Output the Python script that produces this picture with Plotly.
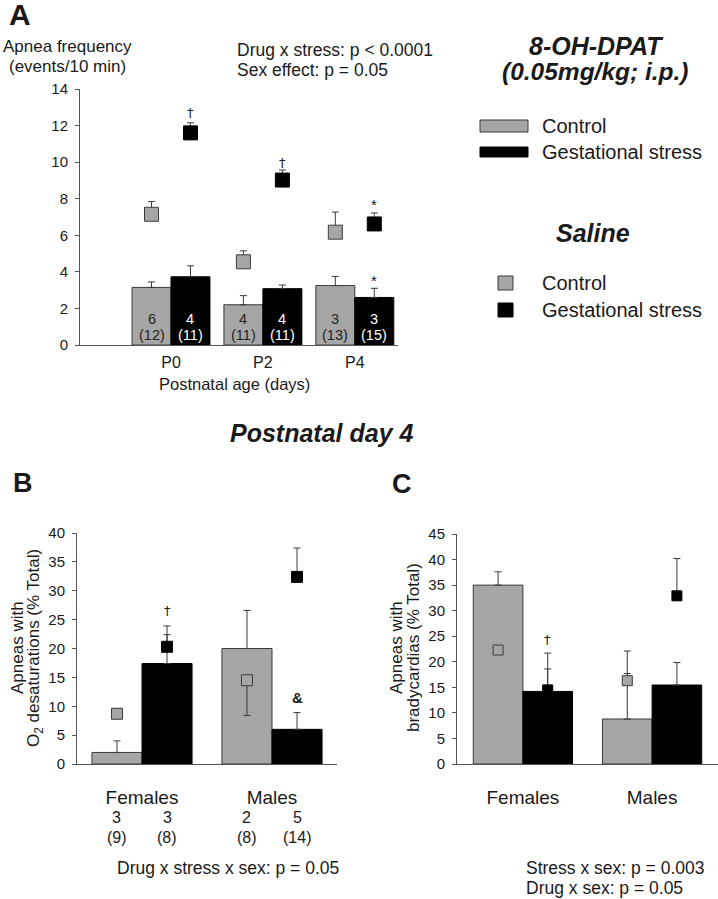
import plotly.graph_objects as go

# ---------------- data ----------------
ages = ["P0", "P2", "P4"]
dpat_control = [3.15, 2.2, 3.25]
dpat_control_err = [0.3, 0.5, 0.5]
dpat_stress = [3.73, 3.08, 2.6]
dpat_stress_err = [0.6, 0.2, 0.5]
saline_control = [7.15, 4.55, 6.17]
saline_control_err = [0.7, 0.6, 1.1]
saline_stress = [11.6, 9.02, 6.62]
saline_stress_err = [0.55, 0.55, 0.6]
n_control = ["6", "4", "3"]
n2_control = ["(12)", "(11)", "(13)"]
n_stress = ["4", "4", "3"]
n2_stress = ["(11)", "(11)", "(15)"]

sexes = ["Females", "Males"]
# B: O2 desaturations
desat_dpat_control = [2.0, 20.0]
desat_dpat_control_err = [2.0, 6.6]
desat_dpat_stress = [17.4, 6.0]
desat_dpat_stress_err = [5.0, 2.9]
desat_sal_control = [8.7, 14.5]
desat_sal_control_up = [0.0, 0.0]
desat_sal_control_down = [0.0, 6.1]
desat_sal_stress = [20.3, 32.4]
desat_sal_stress_err = [3.6, 5.0]
nB_top = ["3", "3", "2", "5"]
nB_bot = ["(9)", "(8)", "(8)", "(14)"]

# C: bradycardias
brady_dpat_control = [35.0, 8.8]
brady_dpat_control_err = [2.6, 13.3]
brady_dpat_stress = [14.2, 15.45]
brady_dpat_stress_err = [4.4, 4.4]
brady_sal_control = [22.3, 16.3]
brady_sal_control_err = [0.0, 1.4]
brady_sal_stress = [14.5, 32.9]
brady_sal_stress_err = [7.2, 7.3]

# ---------------- style ----------------
W, H = 718, 899
FONT = "Liberation Sans, Arial, sans-serif"
SYMFONT = "DejaVu Sans, Liberation Sans, sans-serif"
GRAY = "#a6a6a6"
EDGE = "#3a3a3a"
AX = "#555555"
TXT = "#1a1a1a"


def px(x):
    return x / W


def py(y):
    return 1 - y / H


fig = go.Figure()


def err(arr):
    return dict(type="data", symmetric=False, array=arr, arrayminus=[0] * len(arr),
                color=EDGE, thickness=1, width=3.5)


def add_panel(xa, ya, idx, wbar, ctrl, ctrl_e, strs, strs_e,
              sc, sc_up, sc_down, ss, ss_e, msize):
    xs = list(range(len(idx)))
    fig.add_trace(go.Bar(x=xs, y=ctrl, width=wbar, offset=-wbar,
                         marker=dict(color=GRAY, line=dict(color=EDGE, width=1)),
                         error_y=err(ctrl_e), xaxis=xa, yaxis=ya, showlegend=False))
    fig.add_trace(go.Bar(x=xs, y=strs, width=wbar, offset=0,
                         marker=dict(color="black", line=dict(color="black", width=1)),
                         error_y=err(strs_e), xaxis=xa, yaxis=ya, showlegend=False))
    fig.add_trace(go.Scatter(x=[v - wbar / 2 for v in xs], y=sc, mode="markers",
                             marker=dict(symbol="square", size=msize, color=GRAY,
                                         line=dict(color=EDGE, width=1)),
                             error_y=dict(type="data", symmetric=False, array=sc_up,
                                          arrayminus=sc_down, color=EDGE, thickness=1, width=3.5),
                             xaxis=xa, yaxis=ya, showlegend=False))
    fig.add_trace(go.Scatter(x=[v + wbar / 2 for v in xs], y=ss, mode="markers",
                             marker=dict(symbol="square", size=msize, color="black",
                                         line=dict(color="black", width=1)),
                             error_y=err(ss_e),
                             xaxis=xa, yaxis=ya, showlegend=False))


wA = 0.424
add_panel("x", "y", ages, wA, dpat_control, dpat_control_err, dpat_stress, dpat_stress_err,
          saline_control, saline_control_err, [0] * 3, saline_stress, saline_stress_err, 14)
wB = 0.385
add_panel("x2", "y2", sexes, wB, desat_dpat_control, desat_dpat_control_err,
          desat_dpat_stress, desat_dpat_stress_err,
          desat_sal_control, desat_sal_control_up, desat_sal_control_down,
          desat_sal_stress, desat_sal_stress_err, 11)
wC = 0.384
add_panel("x3", "y3", sexes, wC, brady_dpat_control, brady_dpat_control_err,
          brady_dpat_stress, brady_dpat_stress_err,
          brady_sal_control, brady_sal_control_err, [0, 0],
          brady_sal_stress, brady_sal_stress_err, 10)

yaxis_common = dict(showline=True, linecolor=AX, linewidth=1, ticks="outside", ticklen=4,
                    tickcolor=AX, showgrid=False, zeroline=False,
                    tickfont=dict(family=FONT, size=15, color=TXT), ticklabelstandoff=4)
xaxis_common = dict(showline=True, linecolor=AX, linewidth=1, ticks="", showgrid=False,
                    zeroline=False)

fig.update_layout(
    width=W, height=H, margin=dict(l=0, r=0, t=0, b=0, pad=0, autoexpand=False),
    paper_bgcolor="white", plot_bgcolor="white", barmode="overlay",
    font=dict(family=FONT, color=TXT),
    xaxis=dict(domain=[px(80), px(398)], range=[-0.99, 2.47], tickvals=[0, 1, 2], ticktext=ages,
               tickfont=dict(family=FONT, size=16, color=TXT), ticklabelstandoff=3,
               anchor="y", **xaxis_common),
    yaxis=dict(domain=[py(345), py(89)], range=[0, 14], dtick=2, anchor="x", **yaxis_common),
    xaxis2=dict(domain=[px(77), px(337)], range=[-0.5, 1.5], tickvals=[0, 1], ticktext=sexes,
                tickfont=dict(family=FONT, size=19, color=TXT), ticklabelstandoff=16,
                anchor="y2", **xaxis_common),
    yaxis2=dict(domain=[py(764), py(533)], range=[0, 40], dtick=5, anchor="x2", **yaxis_common),
    xaxis3=dict(domain=[px(457), 1.0], range=[-0.51, 1.51], tickvals=[0, 1], ticktext=sexes,
                tickfont=dict(family=FONT, size=19, color=TXT), ticklabelstandoff=16,
                anchor="y3", **xaxis_common),
    yaxis3=dict(domain=[py(764), py(534)], range=[0, 45], dtick=5, anchor="x3", **yaxis_common),
)

ann = []


def A(text, x, y, size=17, xref="paper", yref="paper", xanchor="center", yanchor="middle",
      bold=False, italic=False, color=TXT, angle=0, align="center", family=FONT):
    t = text
    if bold:
        t = "<b>" + t + "</b>"
    if italic:
        t = "<i>" + t + "</i>"
    ann.append(dict(text=t, x=x, y=y, xref=xref, yref=yref, xanchor=xanchor, yanchor=yanchor,
                    showarrow=False, textangle=angle, align=align, borderpad=0,
                    font=dict(family=family, size=size, color=color)))


# panel letters
A("A", px(8), py(15), size=30, bold=True, xanchor="left")
A("B", px(12), py(483), size=27, bold=True, xanchor="left")
A("C", px(391), py(484), size=27, bold=True, xanchor="left")

# panel A texts
A("Apnea frequency", px(67), py(47), size=17)
A("(events/10 min)", px(67), py(66), size=17)
A("Drug x stress: p &lt; 0.0001", px(236), py(50), size=17.5, xanchor="left")
A("Sex effect: p = 0.05", px(236), py(70), size=17.5, xanchor="left")
A("8-OH-DPAT", px(596), py(46), size=25, bold=True, italic=True)
A("(0.05mg/kg; i.p.)", px(595), py(71), size=24.5, bold=True, italic=True)
A("Saline", px(593), py(233), size=25, bold=True, italic=True)
A("Postnatal age (days)", px(234), py(384), size=16.5)
A("Postnatal day 4", px(321), py(433), size=25, bold=True, italic=True)

# legend entries
A("Control", px(541), py(126), size=20, xanchor="left")
A("Gestational stress", px(541), py(152), size=20, xanchor="left")
A("Control", px(541), py(283), size=20, xanchor="left")
A("Gestational stress", px(541), py(310), size=20, xanchor="left")

shapes = [
    dict(type="rect", xref="paper", yref="paper", x0=px(480), x1=px(528), y0=py(132), y1=py(120),
         fillcolor=GRAY, line=dict(color=EDGE, width=1)),
    dict(type="rect", xref="paper", yref="paper", x0=px(480), x1=px(528), y0=py(157), y1=py(147),
         fillcolor="black", line=dict(color="black", width=1)),
    dict(type="rect", xref="paper", yref="paper", x0=px(498), x1=px(513), y0=py(290), y1=py(276),
         fillcolor=GRAY, line=dict(color=EDGE, width=1)),
    dict(type="rect", xref="paper", yref="paper", x0=px(498), x1=px(513), y0=py(317), y1=py(303),
         fillcolor="black", line=dict(color="black", width=1)),
]

# n labels inside bars (panel A)
for i in range(3):
    A(n_control[i], i - wA / 2, 1.4, size=14.5, xref="x", yref="y", color="#222222")
    A(n2_control[i], i - wA / 2, 0.55, size=14.5, xref="x", yref="y", color="#222222")
    A(n_stress[i], i + wA / 2, 1.4, size=14.5, xref="x", yref="y", color="white")
    A(n2_stress[i], i + wA / 2, 0.55, size=14.5, xref="x", yref="y", color="white")

# significance marks panel A
A("†", 0 + wA / 2, 12.7, size=13, xref="x", yref="y", family=SYMFONT)
A("†", 1 + wA / 2, 10.0, size=13, xref="x", yref="y", family=SYMFONT)
A("*", 2 + wA / 2, 7.7, size=15, xref="x", yref="y")
A("*", 2 + wA / 2, 3.55, size=15, xref="x", yref="y")

# panel B
A("Apneas with", px(17), py(648), size=17, angle=-90)
A("O<sub>2</sub> desaturations (% Total)", px(35), py(648), size=17, angle=-90)
A("†", 0 + wB / 2, 26.6, size=13, xref="x2", yref="y2", family=SYMFONT)
A("&amp;", 1 + wB / 2, 11.6, size=15, xref="x2", yref="y2", bold=True)
bx = [0 - wB / 2, 0 + wB / 2, 1 - wB / 2, 1 + wB / 2]
for i in range(4):
    A(nB_top[i], bx[i], py(817), size=16, xref="x2")
    A(nB_bot[i], bx[i], py(837), size=16, xref="x2")
A("Drug x stress x sex: p = 0.05", px(228), py(868), size=17.5)

# panel C
A("Apneas with", px(396), py(648), size=17, angle=-90)
A("bradycardias (% Total)", px(413), py(648), size=17, angle=-90)
A("†", 0 + wC / 2, 24.3, size=13, xref="x3", yref="y3", family=SYMFONT)
A("Stress x sex: p = 0.003", px(525), py(868), size=17.5, xanchor="left")
A("Drug x sex: p = 0.05", px(525), py(888), size=17.5, xanchor="left")

fig.update_layout(annotations=ann, shapes=shapes)
fig.write_html("out.html", config={"displayModeBar": False},
               post_script="document.body.style.margin='0';document.body.style.padding='0';")
